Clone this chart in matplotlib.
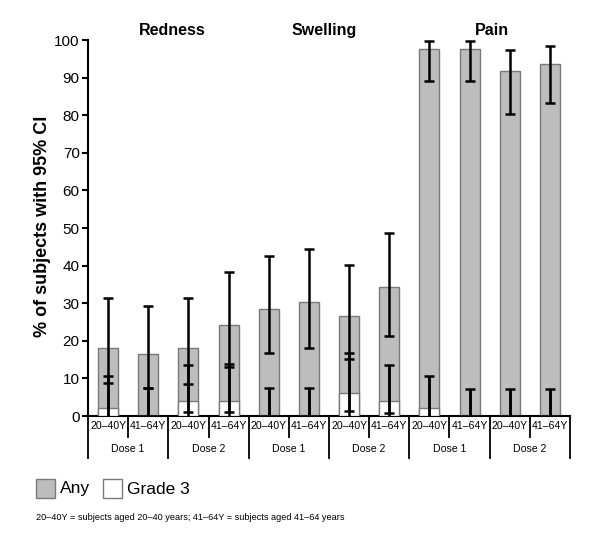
import matplotlib
matplotlib.use("Agg")
import matplotlib.pyplot as plt
from matplotlib.patches import Rectangle
import numpy as np

plt.rcParams['font.family'] = ['Liberation Sans', 'DejaVu Sans']

# ---- data ----
reactions = ["Redness", "Swelling", "Pain"]
doses = ["Dose 1", "Dose 2"]
ages = ["20–40Y", "41–64Y"]

any_pct = [18.0, 16.4, 18.0, 24.1, 28.4, 30.2, 26.5, 34.4, 97.5, 97.7, 91.8, 93.5]
any_lo  = [8.7, 7.5, 8.6, 12.9, 16.7, 18.2, 15.2, 21.3, 89.2, 89.2, 80.4, 83.3]
any_hi  = [31.5, 29.3, 31.5, 38.2, 42.6, 44.5, 40.2, 48.8, 99.7, 99.7, 97.4, 98.4]
g3_pct  = [2.0, 0.0, 4.0, 4.0, 0.0, 0.0, 6.0, 4.1, 2.0, 0.0, 0.0, 0.0]
g3_lo   = [0.0, 0.0, 1.0, 1.1, 0.0, 0.0, 1.4, 0.8, 0.0, 0.0, 0.0, 0.0]
g3_hi   = [10.7, 7.5, 13.6, 13.9, 7.4, 7.4, 16.7, 13.6, 10.6, 7.1, 7.1, 7.1]

yticks = list(range(0, 101, 10))
ylabel = "% of subjects with 95% CI"
footnote = "20–40Y = subjects aged 20–40 years; 41–64Y = subjects aged 41–64 years"

W, H = 600, 547
fig = plt.figure(figsize=(W / 100, H / 100), dpi=100)
ax = fig.add_axes([88 / W, 1 - 416 / H, (570 - 88) / W, (416 - 40) / H])

n = len(any_pct)
x = np.arange(n)
grey = "#bdbdbd"
edge = "#7a7a7a"

ax.bar(x, any_pct, width=0.5, color=grey, edgecolor=edge, linewidth=1.0, zorder=2)
ax.bar(x, g3_pct, width=0.5, color="white", edgecolor=edge, linewidth=1.0, zorder=3)

cap_half = 0.125
def draw_ci(lo, hi):
    lo = np.array(lo)
    hi = np.array(hi)
    ax.vlines(x, lo, hi, colors="black", linewidth=1.8, zorder=4)
    ax.hlines(hi, x - cap_half, x + cap_half, colors="black", linewidth=1.8, zorder=4)
    m = lo > 0
    ax.hlines(lo[m], x[m] - cap_half, x[m] + cap_half, colors="black", linewidth=1.8, zorder=4)

draw_ci(any_lo, any_hi)
draw_ci(g3_lo, g3_hi)
ax.vlines(x, 0, np.minimum(any_lo, g3_hi), colors="black", linewidth=1.8, zorder=4)

ax.set_xlim(-0.5, n - 0.5)
ax.set_ylim(0, 100)
ax.set_yticks(yticks)
ax.set_yticklabels([str(t) for t in yticks], fontsize=11)
ax.tick_params(axis="y", length=4, width=1.5, pad=2)
ax.set_xticks([])
for s in ["top", "right"]:
    ax.spines[s].set_visible(False)
ax.spines["left"].set_linewidth(1.5)
ax.spines["bottom"].set_linewidth(1.5)

ax.set_ylabel(ylabel, fontsize=13, fontweight="bold", labelpad=0)
ax.yaxis.set_label_coords(-(88 - 51) / (570 - 88), 0.505)

# category table below the axis
tr = ax.get_xaxis_transform()
axh = 416 - 40
def fy(px):
    return -px / axh

for i in range(n):
    ax.text(x[i], fy(10), ages[i % 2], transform=tr, ha="center", va="center", fontsize=7.6)
for g in range(n // 2):
    ax.text(2 * g + 0.5, fy(33.5), doses[g % 2], transform=tr, ha="center", va="center", fontsize=7.6)
    ax.plot([2 * g + 0.5, 2 * g + 0.5], [0, fy(21)], transform=tr, color="black", lw=1.3, clip_on=False)
for b in np.arange(-0.5, n, 2):
    ax.plot([b, b], [0, fy(41.5)], transform=tr, color="black", lw=1.3, clip_on=False)

# reaction titles
title_x = [1.59, 5.38, 9.55]
for t, xx in zip(reactions, title_x):
    ax.text(xx, 1 + 5 / axh, t, ha="center", va="baseline", fontsize=11.5,
            fontweight="bold", transform=tr, clip_on=False)

# legend
fig.patches.append(Rectangle((36, H - 498), 19, 19, transform=None, facecolor=grey,
                             edgecolor=edge, linewidth=1.0, figure=fig))
fig.text(60 / W, 1 - 489 / H, "Any", fontsize=12.5, va="center", ha="left")
fig.patches.append(Rectangle((103, H - 498), 19, 19, transform=None, facecolor="white",
                             edgecolor=edge, linewidth=1.0, figure=fig))
fig.text(127 / W, 1 - 489 / H, "Grade 3", fontsize=12.5, va="center", ha="left")

fig.text(36 / W, 1 - 517 / H, footnote, fontsize=6.6, va="center", ha="left")

fig.savefig("out.png", dpi=100)
